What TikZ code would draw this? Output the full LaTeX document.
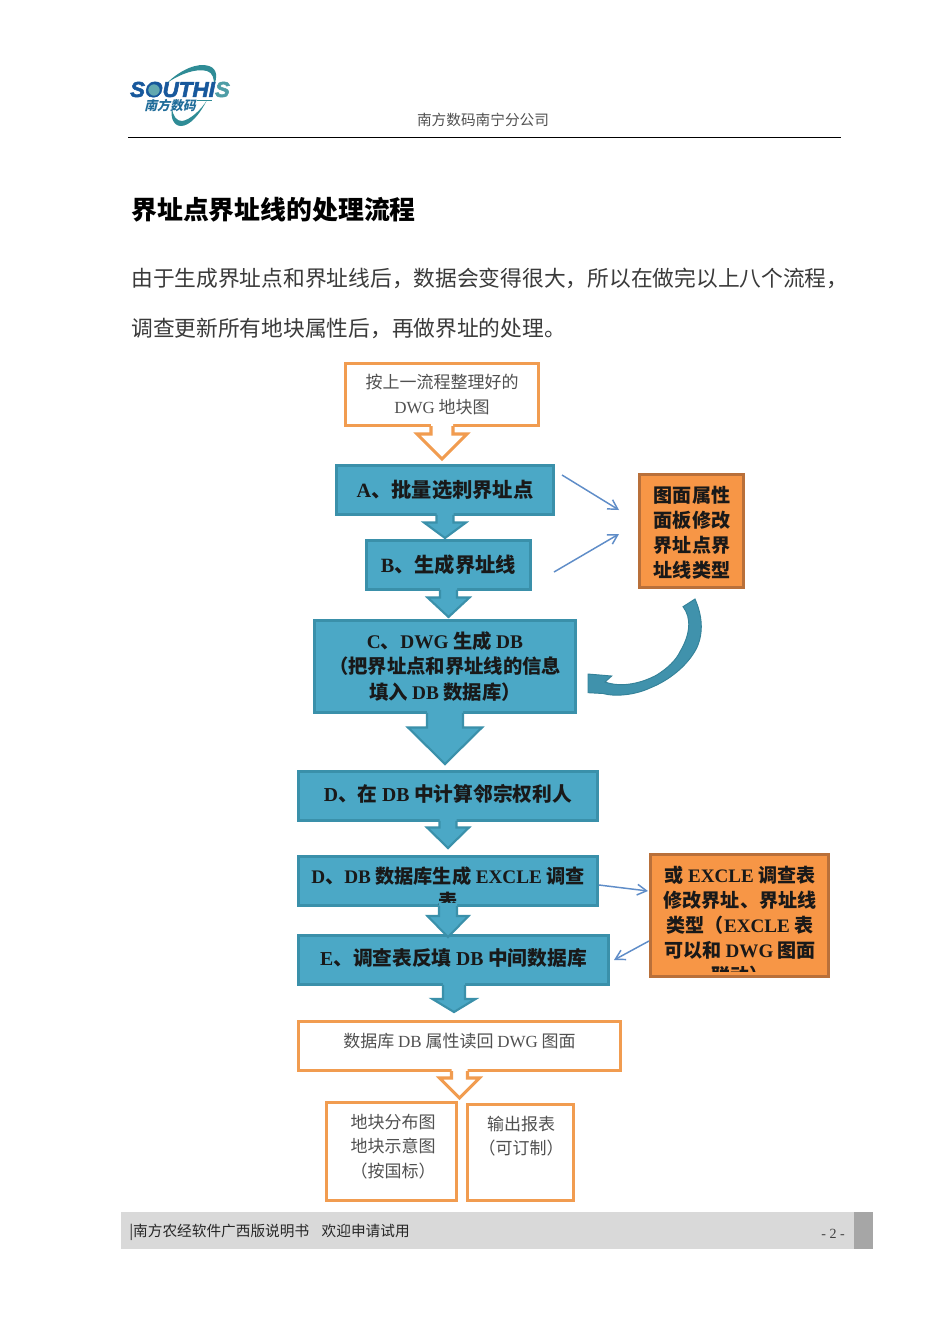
\documentclass[tikz,border=0pt]{standalone}
\usepackage{fontspec}
\setmainfont{Noto Sans CJK SC}
\newfontfamily\latfont{Liberation Serif}
\newfontfamily\logofont[FakeBold=2.5,FakeStretch=1.04]{Liberation Sans}
\newfontfamily\slantfont[FakeSlant=0.25]{Noto Sans CJK SC}
\newcommand\lat[1]{{\latfont #1}}
\newcommand\fsz[2]{\fontsize{#1}{#2}\selectfont}
\usetikzlibrary{arrows.meta,calc}
\definecolor{boxblue}{HTML}{4BA8C6}
\definecolor{boxedge}{HTML}{3A90AA}
\definecolor{orfill}{HTML}{F79646}
\definecolor{oredge}{HTML}{B9703A}
\definecolor{orline}{HTML}{F19C50}
\definecolor{thin}{HTML}{5F8DC8}
\definecolor{greytext}{HTML}{505050}
\definecolor{bodytext}{HTML}{3A3A3A}
\definecolor{logoblue}{HTML}{17589C}
\definecolor{logoteal}{HTML}{2F8C96}
\tikzset{
  pxw/.style={minimum width=#1*0.75pt},
  pxh/.style={minimum height=#1*0.75pt},
  bfs/.style={font=\fsz{#1}{19}\bfseries},
  bluebox/.style={draw=boxedge,fill=boxblue,line width=1.9pt,inner sep=0pt,align=center,
    bfs=14.5,text=black!90},
  hollowbox/.style={draw=orline,fill=white,line width=2.3pt,inner sep=0pt,align=center,
    font=\fsz{12.75}{18.5},text=greytext},
  orangebox/.style={draw=oredge,fill=orfill,line width=1.9pt,inner sep=0pt},
  orangetext/.style={inner sep=0pt,align=center,font=\fsz{14.3}{18.75}\bfseries,text=black!90},
  greylabel/.style={inner sep=0pt,align=center,font=\fsz{12.75}{18.3},text=greytext},
  bluearrow/.style={draw=boxedge,fill=boxblue,line width=1.6pt,line join=miter},
  hollowarrow/.style={draw=orline,fill=white,line width=2.3pt,line join=miter},
  thinarrow/.style={draw=thin,line width=1.1pt,-{Straight Barb[length=7pt,width=8pt]}},
  bodyline/.style={anchor=west,inner sep=0pt,font=\fsz{16.3}{18},text=bodytext},
  plainlabel/.style={inner sep=0pt,align=center},
}
% style, from node, to node, x centre, shaft half, head half, head y, tip y
\newcommand\blockarrow[8]{%
  \coordinate (bL) at ({#4-#5},0);
  \coordinate (bR) at ({#4+#5},0);
  \fill[#1,draw=none] ($(#2.south -| bL)+(0,-4)$) -- ({#4-#5},#7) -- ({#4-#6},#7) -- (#4,#8)
     -- ({#4+#6},#7) -- ({#4+#5},#7) -- ($(#2.south -| bR)+(0,-4)$) -- cycle;
  \draw[#1,fill=none] ($(#2.south -| bL)+(0,-1)$) -- ({#4-#5},#7) -- ({#4-#6},#7) -- (#4,#8)
     -- ({#4+#6},#7) -- ({#4+#5},#7) -- ($(#2.south -| bR)+(0,-1)$);
}
\begin{document}
\begin{tikzpicture}[x=0.75pt,y=-0.75pt]
\useasboundingbox (0,0) rectangle (950,1343);
\fill[white] (0,0) rectangle (950,1343);

% logo
\fill[logoteal] (167,83) .. controls (180,70) and (198,62) .. (209,66)
   .. controls (218,69) and (217,78) .. (214,86) .. controls (214,78) and (213,73) .. (207,71)
   .. controls (196,68) and (180,74) .. (167,83) -- cycle;
\fill[logoteal] (207,100) .. controls (200,114) and (190,126) .. (181,126)
   .. controls (174,126) and (170,118) .. (172,108) .. controls (173,117) and (177,121) .. (182,121)
   .. controls (190,120) and (201,110) .. (207,100) -- cycle;
\draw[logoteal,line width=0.7pt] (197,100.5) -- (212,100.5);
\node[inner sep=0pt,font=\logofont\fsz{16.2}{18}\bfseries\itshape] (logotext) at (180,89.5)
   {\textcolor{logoblue}{SOUTHI}\textcolor{logoteal!85!white}{S}};
\filldraw[fill=logoteal!75!white,draw=logoblue,line width=1.1pt] (154,90) circle [radius=6.5];
\node[inner sep=0pt,text=logoteal!40!logoblue,font=\slantfont\fsz{9.6}{11}\bfseries] (logocn) at (170,106) {南方数码};

% header
\node[plainlabel,font=\fsz{11}{13},text=greytext] (header) at (483,120) {南方数码南宁分公司};
\coordinate (hl) at (128,137.5);
\coordinate (hr) at (841,137.5);
\draw[black,line width=0.8pt] (hl) -- (hr);

% title and body
\node[anchor=west,inner sep=0pt,font=\fsz{19.4}{22}\bfseries] (title) at (131,210) {界址点界址线的处理流程};
\node[bodyline] (body1) at (131,278) {由于生成界址点和界址线后，数据会变得很大，所以在做完以上八个流程，};
\node[bodyline] (body2) at (131,328) {调查更新所有地块属性后，再做界址的处理。};

% boxes
\node[hollowbox,pxw=193,pxh=62] (start) at (442,394.5) {按上一流程整理好的\\\lat{DWG} 地块图};
\node[bluebox,bfs=15.2,pxw=217,pxh=49] (A) at (445,490) {\raisebox{1pt}{\lat{A}、批量选刺界址点}};
\node[bluebox,bfs=15.2,pxw=164,pxh=49] (B) at (448.5,565) {\raisebox{2pt}{\lat{B}、生成界址线}};
\node[bluebox,pxw=261,pxh=92] (C) at (445,666.5) {\lat{C}、\lat{DWG} 生成 \lat{DB}\\（把界址点和界址线的信息\\填入 \lat{DB} 数据库）};
\node[bluebox,bfs=14.8,pxw=299,pxh=49] (D) at (448,796) {\raisebox{5pt}{\lat{D}、在 \lat{DB} 中计算邻宗权利人}};

% block arrows between boxes
\blockarrow{hollowarrow}{start}{A}{442}{11}{25}{434}{459}
\blockarrow{bluearrow}{A}{B}{445}{8.5}{21}{522.5}{538}
\blockarrow{bluearrow}{B}{C}{448.5}{8.5}{21}{597.5}{617}
\blockarrow{bluearrow}{C}{D}{445}{18}{37}{727.5}{764}

\node[bluebox,pxw=299,pxh=49] (D2) at (448,881) {};
\blockarrow{bluearrow}{D}{D2}{448}{8.5}{21}{827.5}{848}
\begin{scope}
  \clip (299,857) rectangle (597,907);
  \node[plainlabel,font=\fsz{14.4}{19}\bfseries,text=black!90] (D2text) at (448,888.5)
    {\lat{D}、\lat{DB} 数据库生成 \lat{EXCLE} 调查\\表};
\end{scope}
\node[bluebox,bfs=14.8,pxw=310,pxh=49] (E) at (453.5,960) {\raisebox{4.5pt}{\lat{E}、调查表反填 \lat{DB} 中间数据库}};
\blockarrow{bluearrow}{D2}{E}{448}{9}{20.5}{916}{937}
\node[hollowbox,pxw=322,pxh=49] (DB) at (459.5,1046) {\raisebox{8.5pt}{数据库 \lat{DB} 属性读回 \lat{DWG} 图面}};
\blockarrow{bluearrow}{E}{DB}{454}{11}{21.5}{999}{1012}
\node[hollowbox,pxw=130,pxh=98] (L) at (391.5,1151.5) {};
\node[greylabel] (Ltext) at (393,1146.5) {地块分布图\\地块示意图\\（按国标）};
\node[hollowbox,pxw=106,pxh=96] (R) at (520.5,1152.5) {};
\node[greylabel] (Rtext) at (521,1136) {输出报表\\（可订制）};
\blockarrow{hollowarrow}{DB}{L}{459.5}{8}{20}{1078}{1098}

% orange side boxes
\node[orangebox,pxw=104,pxh=113] (P) at (691.5,531) {};
\node[orangetext] (Ptext) at (692,532.5) {图面属性\\面板修改\\界址点界\\址线类型};
\node[orangebox,pxw=178,pxh=122] (X) at (739.5,915.5) {};
\begin{scope}
  \clip (651,855) rectangle (828,971.5);
  \node[orangetext] (Xtext) at (740,925)
    {或 \lat{EXCLE} 调查表\\修改界址、界址线\\类型（\lat{EXCLE} 表\\可以和 \lat{DWG} 图面\\联动）};
\end{scope}

% thin arrows
\coordinate (a1) at (562,475);  \coordinate (p1) at (619,510);
\coordinate (b1) at (554,572);  \coordinate (p2) at (619,534);
\coordinate (x1) at (648,891);
\coordinate (x2) at (649,941);
\coordinate (e1) at (614,960);
\coordinate (d1) at (599,885);
\draw[thinarrow] (a1) -- (p1);
\draw[thinarrow] (b1) -- (p2);
\draw[thinarrow] (d1) -- (x1);
\draw[thinarrow] (x2) -- (e1);

% curved arrow from the property box back to box C
\filldraw[fill=boxblue!75!boxedge!90!black,draw=boxedge!90!black,line width=0.7pt,line join=miter]
  (695,599) .. controls (702,615) and (704,632) .. (696.7,648)
  .. controls (688,665) and (670,680) .. (650,688)
  .. controls (635,695) and (615,697) .. (603,693.5)
  -- (588,692.7) -- (588,674) -- (611.7,676) -- (605,682)
  .. controls (622,688) and (642,683) .. (656.7,675)
  .. controls (668,668) and (676,660) .. (680,651.7)
  .. controls (690,635) and (692,618) .. (683,606.7) -- cycle;

% footer
\fill[black!15] (121,1212) rectangle (854,1249);
\fill[black!35] (854,1212) rectangle (873,1249);
\node[anchor=west,inner sep=0pt,font=\fsz{11}{13},text=black!85] (foot) at (129,1232) {|南方农经软件广西版说明书\hspace{0.85em}欢迎申请试用};
\node[inner sep=0pt,font=\latfont\fsz{10.5}{13},text=black!75] (page) at (833,1233.5) {- 2 -};
\end{tikzpicture}
\end{document}
